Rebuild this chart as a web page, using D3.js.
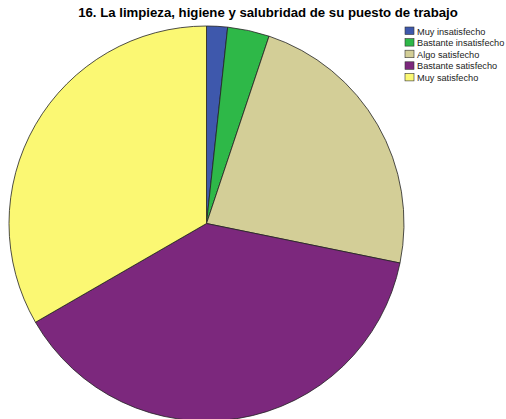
<!DOCTYPE html>
<html>
<head>
<meta charset="utf-8">
<script src="https://cdn.jsdelivr.net/npm/d3@7/dist/d3.min.js"></script>
<style>
  html, body { margin: 0; padding: 0; background: #fff; }
  svg { display: block; font-family: "Liberation Sans", Arial, sans-serif; }
</style>
</head>
<body>
<svg id="chart" width="506" height="419"></svg>
<script>
// Respuestas por categoría
const categories = ["Muy insatisfecho", "Bastante insatisfecho", "Algo satisfecho", "Bastante satisfecho", "Muy satisfecho"];
const counts = [2, 4, 27, 45, 39];
const colors = ["#3e58ac", "#2eb848", "#d3ce97", "#7c287d", "#fbf873"];
const title = "16. La limpieza, higiene y salubridad de su puesto de trabajo";

const svg = d3.select("#chart");
const cx = 206.5, cy = 223.5, r = 197.5;

const data = categories.map((c, i) => ({ cat: c, value: counts[i], color: colors[i] }));

const pie = d3.pie().value(d => d.value).sort(null);
const arc = d3.arc().innerRadius(0).outerRadius(r);

svg.append("g")
  .attr("transform", `translate(${cx},${cy})`)
  .selectAll("path")
  .data(pie(data))
  .join("path")
  .attr("d", arc)
  .attr("fill", d => d.data.color)
  .attr("stroke", "#222")
  .attr("stroke-width", 0.8)
  .attr("stroke-linejoin", "round");

svg.append("text")
  .attr("x", 268)
  .attr("y", 17)
  .attr("text-anchor", "middle")
  .attr("font-size", 13.2)
  .attr("font-weight", "bold")
  .attr("fill", "#000")
  .text(title);

// Leyenda
const legend = svg.append("g").attr("transform", "translate(405,27)");
const row = legend.selectAll("g")
  .data(data)
  .join("g")
  .attr("transform", (d, i) => `translate(0,${i * 11.6})`);
row.append("rect")
  .attr("width", 9).attr("height", 7.5)
  .attr("fill", d => d.color)
  .attr("stroke", "#333").attr("stroke-width", 0.6);
row.append("text")
  .attr("x", 12).attr("y", 7.5)
  .attr("font-size", 9.2)
  .attr("fill", "#222")
  .text(d => d.cat);
</script>
</body>
</html>
